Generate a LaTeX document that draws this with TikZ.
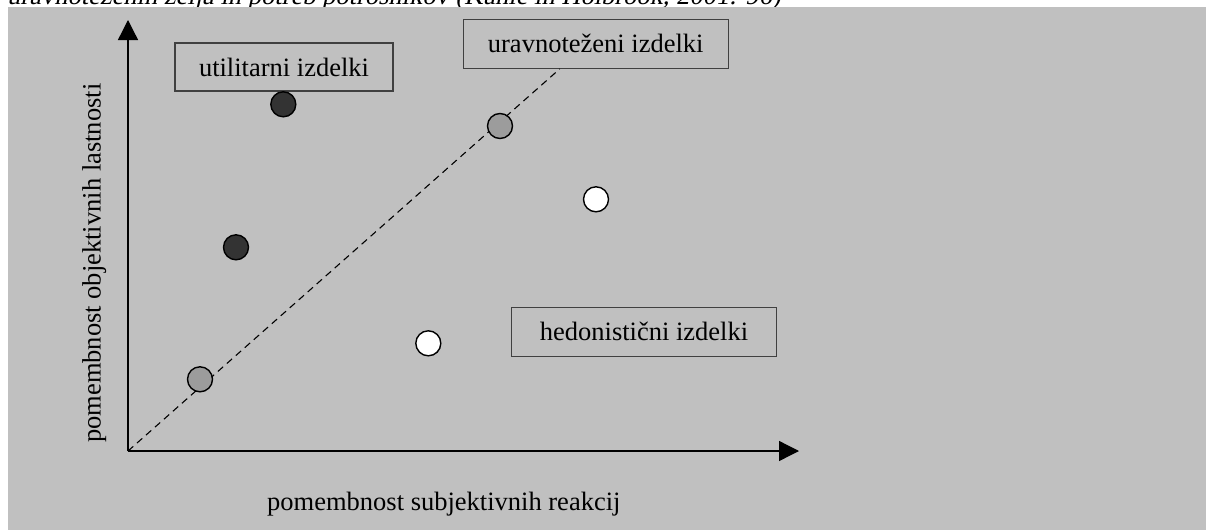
\documentclass[tikz,border=0pt]{standalone}
\usepackage{fontspec}
\setmainfont{Liberation Serif}
\newfontfamily\captionfont[FakeSlant=0.22]{Liberation Serif}
\usetikzlibrary{arrows.meta}
\definecolor{panel}{HTML}{C0C0C0}
\definecolor{boxline}{HTML}{404040}
\definecolor{darkdot}{HTML}{333333}
\definecolor{middot}{HTML}{9C9C9C}
\tikzset{
  txt/.style={font=\fontsize{26.5}{30}\selectfont, inner sep=0pt},
  axis/.style={line width=1.3pt, -{Triangle[length=20pt,width=20pt]}},
  diag/.style={line width=1.1pt, dash pattern=on 7pt off 5pt},
  groupbox/.style={txt, draw=boxline, line width=1.3pt, fill=panel,
    text height=18pt, text depth=0pt},
  dot/.style={circle, draw=black, line width=1.4pt, minimum size=25pt, inner sep=0pt},
  utildot/.style={dot, fill=darkdot},
  baldot/.style={dot, fill=middot},
  hedodot/.style={dot, fill=white}
}
\begin{document}
\begin{tikzpicture}[x=1pt,y=-1pt]
\useasboundingbox (0,0) rectangle (1206,530);
% caption line running above the panel
\node[inner sep=0pt, font=\captionfont\fontsize{26.5}{30}\selectfont, anchor=base west] (caption) at (7,4.5)
  {uravnoteženih želja in potreb potrošnikov (Kahle in Holbrook, 2001: 96)};
% grey panel
\fill[panel] (8,7) rectangle (1206,530);
% axes
\coordinate (O) at (128,451);
\coordinate (ytop) at (128,20);
\coordinate (xend) at (799,451);
\draw[axis] (O) -- (ytop);
\draw[axis] (O) -- (xend);
% axis titles
\node[txt, rotate=90, anchor=base west] (ylab) at (100.5,443) {pomembnost objektivnih lastnosti};
\node[txt, anchor=base west] (xlab) at (267,510) {pomembnost subjektivnih reakcij};
% group boxes
\node[groupbox, minimum width=218pt, minimum height=48pt] (util) at (284,67) {utilitarni izdelki};
\node[groupbox, minimum width=265pt, minimum height=49pt] (bal) at (595.7,43.8) {uravnoteženi izdelki};
\node[groupbox, minimum width=265pt, minimum height=49pt] (hedo) at (644,331.7) {hedonistični izdelki};
% balance diagonal
\draw[diag] (O) -- ([xshift=-36pt]bal.south);
% products
\node[utildot] (u1) at (283.3,104.3) {};
\node[utildot] (u2) at (236,247.3) {};
\node[baldot] (b1) at (500,126) {};
\node[baldot] (b2) at (200,379.3) {};
\node[hedodot] (h1) at (596,199.3) {};
\node[hedodot] (h2) at (428.3,343.3) {};
\end{tikzpicture}
\end{document}
